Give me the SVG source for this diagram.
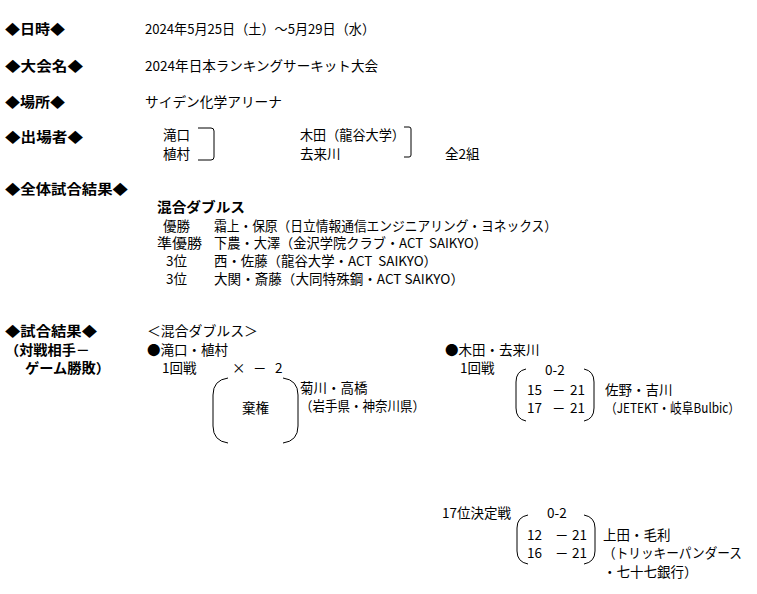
<svg xmlns="http://www.w3.org/2000/svg" width="757" height="594" viewBox="0 0 757 594">
<style>
text{font-family:"Noto Sans CJK JP","Liberation Sans",sans-serif;font-size:13.5px;fill:#000;white-space:pre}
.h{font-weight:bold}
.br{fill:none;stroke:#000;stroke-width:1}
</style>
<rect width="757" height="594" fill="#fff"/>
<g id="info">
<text class="h" x="5" y="34" textLength="60" lengthAdjust="spacingAndGlyphs">◆日時◆</text>
<text x="145" y="34" textLength="230" lengthAdjust="spacingAndGlyphs">2024年5月25日（土）～5月29日（水）</text>
<text class="h" x="5" y="71" textLength="78" lengthAdjust="spacingAndGlyphs">◆大会名◆</text>
<text x="145" y="71" textLength="233" lengthAdjust="spacingAndGlyphs">2024年日本ランキングサーキット大会</text>
<text class="h" x="5" y="107" textLength="60" lengthAdjust="spacingAndGlyphs">◆場所◆</text>
<text x="145" y="107" textLength="137" lengthAdjust="spacingAndGlyphs">サイデン化学アリーナ</text>
</g>
<g id="players">
<text class="h" x="5" y="142" textLength="78" lengthAdjust="spacingAndGlyphs">◆出場者◆</text>
<text x="163" y="140">滝口</text>
<text x="163" y="159">植村</text>
<text x="300" y="140" textLength="105" lengthAdjust="spacingAndGlyphs">木田（龍谷大学）</text>
<text x="300" y="159">去来川</text>
<text x="445" y="159">全2組</text>
</g>
<g id="overall">
<text class="h" x="5" y="194" textLength="123" lengthAdjust="spacingAndGlyphs">◆全体試合結果◆</text>
<text class="h" x="157" y="212" textLength="88" lengthAdjust="spacingAndGlyphs">混合ダブルス</text>
<text x="163" y="231">優勝</text>
<text x="214" y="231" textLength="343" lengthAdjust="spacingAndGlyphs">霜上・保原（日立情報通信エンジニアリング・ヨネックス）</text>
<text x="157" y="248" textLength="45" lengthAdjust="spacingAndGlyphs">準優勝</text>
<text x="214" y="248" textLength="273" lengthAdjust="spacingAndGlyphs">下農・大澤（金沢学院クラブ・ACT  SAIKYO）</text>
<text x="166" y="266">3位</text>
<text x="214" y="266" textLength="223" lengthAdjust="spacingAndGlyphs">西・佐藤（龍谷大学・ACT  SAIKYO）</text>
<text x="166" y="284">3位</text>
<text x="214" y="284" textLength="250" lengthAdjust="spacingAndGlyphs">大関・斎藤（大同特殊鋼・ACT SAIKYO）</text>
</g>
<g id="results-head">
<text class="h" x="5" y="336" textLength="92" lengthAdjust="spacingAndGlyphs">◆試合結果◆</text>
<text class="h" x="5" y="355" textLength="85" lengthAdjust="spacingAndGlyphs">（対戦相手－</text>
<text class="h" x="25" y="373" textLength="85" lengthAdjust="spacingAndGlyphs">ゲーム勝敗）</text>
<text x="147" y="336" textLength="111" lengthAdjust="spacingAndGlyphs">＜混合ダブルス＞</text>
</g>
<g id="match-takiguchi">
<text x="147" y="355">●滝口・植村</text>
<text x="162" y="373">1回戦</text>
<text x="232" y="373">×</text>
<text x="253" y="373">－</text>
<text x="275" y="373">2</text>
<text x="242" y="413">棄権</text>
<text x="300" y="393">菊川・高橋</text>
<text x="300" y="411" textLength="125" lengthAdjust="spacingAndGlyphs">（岩手県・神奈川県）</text>
</g>
<g id="match-kida">
<text x="445" y="355">●木田・去来川</text>
<text x="460" y="373">1回戦</text>
<text x="545" y="375">0-2</text>
<text x="527" y="395">15</text>
<text x="552" y="395">－</text>
<text x="570" y="395">21</text>
<text x="527" y="413">17</text>
<text x="552" y="413">－</text>
<text x="570" y="413">21</text>
<text x="605" y="395">佐野・吉川</text>
<text x="605" y="413" textLength="135" lengthAdjust="spacingAndGlyphs">（JETEKT・岐阜Bulbic）</text>
</g>
<g id="match-17th">
<text x="442" y="518">17位決定戦</text>
<text x="547" y="518">0-2</text>
<text x="527" y="540">12</text>
<text x="555" y="540">－</text>
<text x="572" y="540">21</text>
<text x="527" y="558">16</text>
<text x="555" y="558">－</text>
<text x="572" y="558">21</text>
<text x="603" y="540">上田・毛利</text>
<text x="603" y="558" textLength="139" lengthAdjust="spacingAndGlyphs">（トリッキーパンダース</text>
<text x="603" y="577">・七十七銀行）</text>
</g>
<g id="connectors">
<path class="br" d="M198,128 L211,128 Q214,128 214,131 L214,157 Q214,160 211,160 L198,160"/>
<path class="br" d="M404,127 L409,127 Q411,127 411,129 L411,155 Q411,157 409,157 L404,157"/>
<path class="br" d="M228,378 Q213,380 213,395 L213,426 Q213,441 228,443"/>
<path class="br" d="M283,378 Q298,380 298,395 L298,426 Q298,441 283,443"/>
<path class="br" d="M526,369 Q516,371 516,382 L516,408 Q516,419 526,421"/>
<path class="br" d="M584,369 Q594,371 594,382 L594,408 Q594,419 584,421"/>
<path class="br" d="M528,515 Q517,517 517,528 L517,551 Q517,562 528,564"/>
<path class="br" d="M584,515 Q595,517 595,528 L595,551 Q595,562 584,564"/>
</g>
</svg>
